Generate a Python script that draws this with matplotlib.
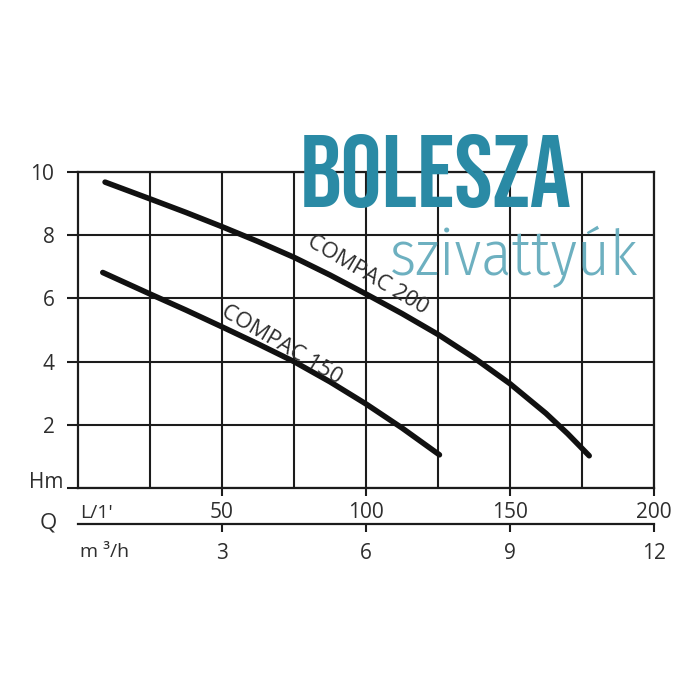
import matplotlib
matplotlib.use('Agg')
import matplotlib.pyplot as plt

plt.rcParams['font.family'] = ['Open Sans', 'DejaVu Sans']

#%% Kennlinien (Q in L/min, H in m)
q_200 = [9.4, 25, 37.5, 50, 62.5, 75, 87.5, 100, 112.5, 125, 137.5, 150, 162.5, 170, 177.5]
h_200 = [9.68, 9.15, 8.72, 8.27, 7.8, 7.3, 6.74, 6.14, 5.52, 4.86, 4.12, 3.3, 2.36, 1.72, 1.02]

q_150 = [8.6, 25, 37.5, 50, 62.5, 75, 87.5, 100, 112.5, 125.5]
h_150 = [6.82, 6.14, 5.63, 5.1, 4.56, 4.0, 3.36, 2.66, 1.9, 1.05]

y_ticks = [0, 2, 4, 6, 8, 10]
y_labels = ['', '2', '4', '6', '8', '10']
lmin_ticks = [50, 100, 150, 200]
m3h_ticks = [3, 6, 9, 12]

ink = '#1c1c1c'
txt = '#2e2e2e'

#%% Figur
fig = plt.figure(figsize=(7, 7), dpi=100)
L, W = 78/700, 576/700
ax = fig.add_axes([L, 212/700, W, 316/700])

ax.plot(q_200, h_200, color='#111111', lw=4.0, solid_capstyle='round', solid_joinstyle='round', zorder=3)
ax.plot(q_150, h_150, color='#111111', lw=4.0, solid_capstyle='round', solid_joinstyle='round', zorder=3)

ax.set_xlim(0, 200)
ax.set_ylim(0, 10)
ax.set_xticks(lmin_ticks)
ax.set_xticks([25, 75, 125, 175], minor=True)
ax.set_yticks(y_ticks)
ax.set_yticklabels(y_labels)
ax.grid(True, which='both', color=ink, lw=1.5)
ax.set_axisbelow(True)
for s in ax.spines.values():
    s.set_color(ink)
    s.set_linewidth(1.6)
ax.tick_params(axis='y', length=8, width=1.5, color=ink, pad=9, labelsize=15, labelcolor=txt)
ax.tick_params(axis='x', which='major', length=6, width=1.5, color=ink, pad=4, labelsize=15, labelcolor=txt)
ax.tick_params(axis='x', which='minor', length=0)

ax.text(100.7, 6.74, 'COMPAC 200', rotation=-30.5, rotation_mode='anchor',
        ha='center', va='center', fontsize=16, color=txt, zorder=4)
ax.text(70.8, 4.53, 'COMPAC 150', rotation=-30.5, rotation_mode='anchor',
        ha='center', va='center', fontsize=16, color=txt, zorder=4)

#%% zweite Skala m3/h
ax2 = fig.add_axes([L, 176/700, W, 0.0001])
ax2.set_xlim(0, 12)
ax2.set_ylim(0, 1)
ax2.set_xticks(m3h_ticks)
ax2.set_yticks([])
for k in ['top', 'left', 'right']:
    ax2.spines[k].set_visible(False)
ax2.spines['bottom'].set_color(ink)
ax2.spines['bottom'].set_linewidth(1.6)
ax2.patch.set_visible(False)
ax2.tick_params(axis='x', length=6, width=1.5, color=ink, pad=8, labelsize=15, labelcolor=txt)

#%% Beschriftungen
fig.text(63/700, 1 - 488/700, 'Hm', ha='right', va='baseline', fontsize=15, color=txt)
fig.text(48/700, 1 - 523/700, 'Q', ha='center', va='center', fontsize=16, color=txt)
fig.text(80/700, 1 - 518/700, "L/1'", ha='left', va='baseline', fontsize=14, color=txt)
fig.text(80/700, 1 - 557/700, 'm \u00b3/h', ha='left', va='baseline', fontsize=14, color=txt)

#%% Logo
fig.text(300/700, 1 - 207/700, 'BOLESZA', ha='left', va='baseline', fontsize=74,
         family=['Bebas Neue', 'DejaVu Sans'], color='#2a8aa5')
fig.text(390/700, 1 - 275/700, 'szivattyúk', ha='left', va='baseline', fontsize=45,
         family=['Fira Sans Condensed', 'DejaVu Sans'], fontweight=300, color='#6db0c0')

fig.savefig('out.png', dpi=100)
